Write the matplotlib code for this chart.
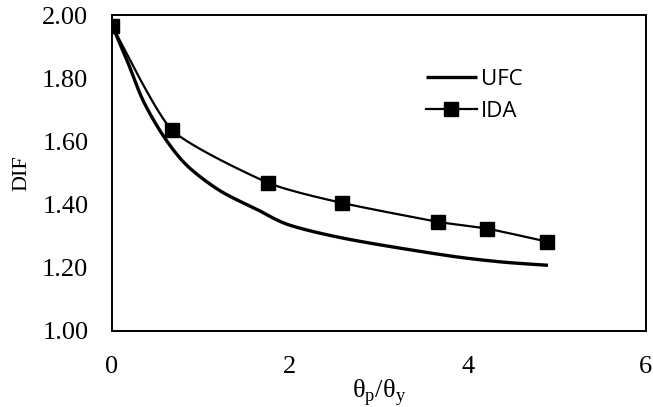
import numpy as np
import matplotlib
matplotlib.use('Agg')
import matplotlib.pyplot as plt

# values
ufc_x = [0.0, 0.18, 0.35, 0.58, 0.84, 1.21, 1.63, 2.0, 2.67, 3.74, 4.36, 4.9]
ufc_y = [1.97, 1.85, 1.73, 1.617, 1.525, 1.445, 1.385, 1.335, 1.29, 1.24, 1.219, 1.208]

ida_x = [0.0, 0.67, 1.75, 2.58, 3.66, 4.22, 4.89]
ida_y = [1.968, 1.638, 1.470, 1.406, 1.346, 1.324, 1.283]

x_ticks = [0, 2, 4, 6]
y_ticks = [1.0, 1.2, 1.4, 1.6, 1.8, 2.0]


def smooth(xs, ys, n=30, k=0.6):
    # cardinal spline through the points, close to Excel's smoothed line
    p = np.column_stack([xs, ys])
    p = np.vstack([p[0], p, p[-1]])
    out = []
    for i in range(1, len(p) - 2):
        p0, p1, p2, p3 = p[i - 1], p[i], p[i + 1], p[i + 2]
        m1 = k * (p2 - p0) / 2
        m2 = k * (p3 - p1) / 2
        t = np.linspace(0, 1, n)[:, None]
        h00 = 2 * t ** 3 - 3 * t ** 2 + 1
        h10 = t ** 3 - 2 * t ** 2 + t
        h01 = -2 * t ** 3 + 3 * t ** 2
        h11 = t ** 3 - t ** 2
        out.append(h00 * p1 + h10 * m1 + h01 * p2 + h11 * m2)
    out = np.vstack(out)
    return out[:, 0], out[:, 1]


plt.rcParams['mathtext.fontset'] = 'custom'
plt.rcParams['mathtext.rm'] = 'Liberation Serif'

fig = plt.figure(figsize=(6.53, 4.07), dpi=100)
ax = fig.add_axes([0.1715, 0.187, 0.8175, 0.775])

sx, sy = smooth(ufc_x, ufc_y, k=0.9)
ax.plot(sx, sy, color='black', lw=2.4, solid_capstyle='butt', label='UFC')
ix, iy = smooth(ida_x, ida_y)
ax.plot(ix, iy, color='black', lw=1.6)
ax.plot(ida_x, ida_y, ls='none', marker='s', ms=10, color='black')
ax.plot([], [], color='black', lw=1.6, marker='s', ms=10, label='IDA')

ax.set_xlim(0, 6)
ax.set_ylim(1.0, 2.0)
ax.set_xticks(x_ticks)
ax.set_yticks(y_ticks)
ax.set_xticklabels([str(v) for v in x_ticks])
ax.set_yticklabels(['%.2f' % v for v in y_ticks])
ax.tick_params(length=0, labelsize=19)
ax.tick_params(axis='y', pad=17)
ax.tick_params(axis='x', pad=18)
for lab in ax.get_xticklabels() + ax.get_yticklabels():
    lab.set_fontfamily('Liberation Serif')
for s in ax.spines.values():
    s.set_linewidth(1.4)

ax.set_ylabel('DIF', fontfamily='Liberation Serif', fontsize=16, labelpad=8)
ax.set_xlabel(r'θ$_\mathrm{p}$/θ$_\mathrm{y}$', fontfamily='Liberation Serif', fontsize=19, labelpad=-1)

ax.legend(loc='upper left', bbox_to_anchor=(0.55, 0.895), frameon=False,
          prop={'family': 'Open Sans', 'size': 16}, handlelength=2.3,
          handletextpad=0.2, labelspacing=0.5)

fig.savefig('out.png', dpi=100)
